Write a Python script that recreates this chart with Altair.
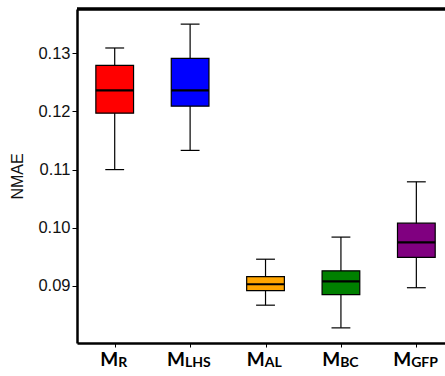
import altair as alt
import pandas as pd

# Box-plot statistics of NMAE for each sampling method
methods = ["R", "LHS", "AL", "BC", "GFP"]
whisker_low = [0.1100, 0.1133, 0.0867, 0.0828, 0.0897]
q1 = [0.1197, 0.1209, 0.0892, 0.0885, 0.0949]
median = [0.1236, 0.1236, 0.0903, 0.0908, 0.0975]
q3 = [0.1279, 0.1291, 0.0916, 0.0926, 0.1008]
whisker_high = [0.1309, 0.1350, 0.0946, 0.0984, 0.1079]
colors = ["#ff0000", "#0000ff", "#ffa500", "#008000", "#800080"]
y_ticks = [0.09, 0.10, 0.11, 0.12, 0.13]

df = pd.DataFrame({
    "sub": methods,
    "pos": list(range(1, len(methods) + 1)),
    "lo": whisker_low, "q1": q1, "med": median, "q3": q3, "hi": whisker_high,
    "color": colors,
})

W, H = 368, 334
step = W / 4.88  # pixels per category slot

x_scale = alt.Scale(domain=[0.5, 5.38], nice=False, zero=False)
y_scale = alt.Scale(domain=[0.0802, 0.1376], nice=False, zero=False)

base = alt.Chart(df).transform_calculate(
    bl="datum.pos - 0.25", br="datum.pos + 0.25",
    cl="datum.pos - 0.125", cr="datum.pos + 0.125",
)

y_axis = alt.Axis(
    values=y_ticks, format=".2f", title="NMAE", grid=False,
    domainColor="black", domainWidth=2.5, tickColor="black", tickSize=5,
    tickWidth=1, labelFont="Liberation Sans", labelFontSize=16.5,
    labelColor="#111", labelPadding=2, titleFont="Liberation Sans",
    titleFontSize=16, titleFontWeight="normal", titleColor="#111",
    titlePadding=12,
)
x_axis = alt.Axis(
    values=[1, 2, 3, 4, 5], labels=False, title=None, grid=False,
    domainColor="black", domainWidth=2.5, tickColor="black", tickSize=4,
    tickWidth=1,
)

whisker = base.mark_rule(color="black", strokeWidth=1.2).encode(
    x=alt.X("pos:Q", scale=x_scale, axis=x_axis),
    y=alt.Y("lo:Q", scale=y_scale, axis=y_axis),
    y2="hi:Q",
)
cap_lo = base.mark_rule(color="black", strokeWidth=1.2).encode(
    x="cl:Q", x2="cr:Q", y="lo:Q"
)
cap_hi = base.mark_rule(color="black", strokeWidth=1.2).encode(
    x="cl:Q", x2="cr:Q", y="hi:Q"
)
box = base.mark_rect(stroke="black", strokeWidth=1.2).encode(
    x="bl:Q", x2="br:Q", y="q1:Q", y2="q3:Q",
    fill=alt.Fill("color:N", scale=None),
)
med = base.mark_rule(color="black", strokeWidth=2.2).encode(
    x="bl:Q", x2="br:Q", y="med:Q"
)

# Category labels: a bold "M" followed by a smaller subscript
lab = base.transform_calculate(
    lx=f"datum.pos + (8 - 4.4 * length(datum.sub)) / {step}"
)
lab_m = lab.mark_text(
    text="M", align="right", baseline="alphabetic", font="Lato",
    fontWeight="bold", fontSize=19, color="black",
).encode(x="lx:Q", y=alt.value(H + 23))
lab_sub = lab.mark_text(
    align="left", baseline="alphabetic", font="Lato", fontWeight="bold",
    fontSize=14, color="black",
).encode(x="lx:Q", y=alt.value(H + 24), text="sub:N")

top = alt.Chart(df).mark_rule(color="black", strokeWidth=2.5).encode(
    x=alt.value(0), x2=alt.value(W), y=alt.value(0)
)

chart = alt.layer(whisker, cap_lo, cap_hi, box, med, lab_m, lab_sub, top).properties(
    width=W, height=H,
    autosize=alt.AutoSizeParams(type="none"),
    padding={"left": 77, "top": 9, "right": 0, "bottom": 33},
).configure_view(stroke=None).configure(background="white")

chart.save("out.html", embed_options={"renderer": "svg", "actions": False})
